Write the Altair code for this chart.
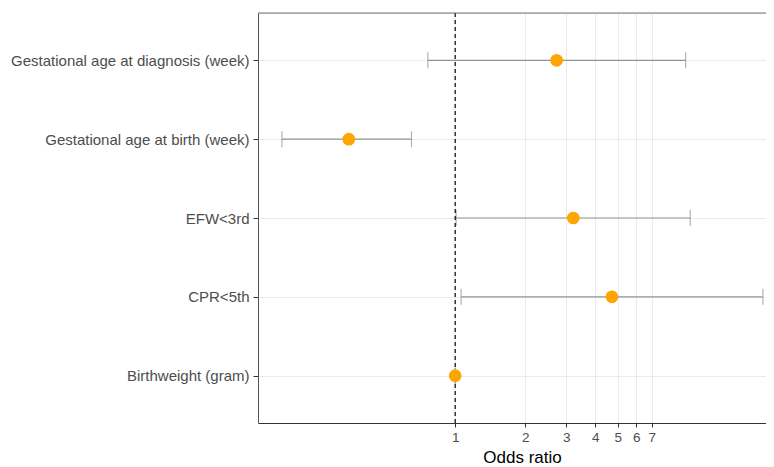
import altair as alt
import pandas as pd

labels = ["Gestational age at diagnosis (week)", "Gestational age at birth (week)",
          "EFW<3rd", "CPR<5th", "Birthweight (gram)"]
odds = [2.73, 0.349, 3.22, 4.72, 1.0]
lower = [0.763, 0.180, 1.01, 1.061, 1.0]
upper = [9.79, 0.649, 10.25, 21.05, 1.0]
x_ticks = [1, 2, 3, 4, 5, 6, 7]
ref_line = [1]

df = pd.DataFrame({"label": labels, "odds": odds, "lower": lower, "upper": upper})
df_ref = pd.DataFrame({"x": ref_line})

W, H = 508, 410
FONT = "Liberation Sans"

xscale = alt.Scale(type="log", domain=[0.142, 21.7], nice=False, zero=False)
yscale = alt.Scale(type="point", padding=0.6, domain=labels)

xaxis = alt.Axis(values=x_ticks, format="d", title="Odds ratio", labelFontSize=13.5,
                 labelColor="#4D4D4D", labelFont=FONT, tickColor="#333333", tickSize=4,
                 domainColor="#333333", titleFontSize=17, titleFontWeight="normal",
                 titleColor="#000000", titleFont=FONT, titlePadding=6, labelPadding=3,
                 grid=True, gridColor="#EBEBEB", titleX=264, titleAnchor="middle")
yaxis = alt.Axis(title=None, labelFontSize=15, labelColor="#4D4D4D", labelFont=FONT,
                 tickColor="#333333", tickSize=5, domainColor="#555555", labelPadding=4,
                 labelLimit=400, grid=True, gridColor="#EBEBEB")

base = alt.Chart(df)

bars = base.mark_rule(color="#939393", strokeWidth=1.2).encode(
    x=alt.X("lower:Q", scale=xscale, axis=xaxis),
    x2="upper:Q",
    y=alt.Y("label:N", scale=yscale, axis=yaxis, sort=labels),
)
cap_lo = base.mark_tick(color="#939393", size=16, thickness=1.2).encode(
    x=alt.X("lower:Q", scale=xscale), y=alt.Y("label:N", scale=yscale, sort=labels))
cap_hi = base.mark_tick(color="#939393", size=16, thickness=1.2).encode(
    x=alt.X("upper:Q", scale=xscale), y=alt.Y("label:N", scale=yscale, sort=labels))

ref = alt.Chart(df_ref).mark_rule(color="#000000", strokeDash=[4, 3], strokeWidth=1.2).encode(
    x=alt.X("x:Q", scale=xscale))

pts = base.mark_circle(color="#FFA500", opacity=1, size=160).encode(
    x=alt.X("odds:Q", scale=xscale), y=alt.Y("label:N", scale=yscale, sort=labels))

top_border = alt.Chart(df_ref).mark_rule(color="#777777", strokeWidth=1).encode(
    x=alt.value(0), x2=alt.value(W), y=alt.value(0))

chart = alt.layer(bars, cap_lo, cap_hi, ref, pts, top_border).properties(
    width=W, height=H,
    autosize=alt.AutoSizeParams(type="none"),
    padding={"left": 250, "top": 5, "right": 0, "bottom": 45},
).configure_view(stroke=None).configure(background="white")

chart.save("out.html", embed_options={"renderer": "svg", "actions": False})
